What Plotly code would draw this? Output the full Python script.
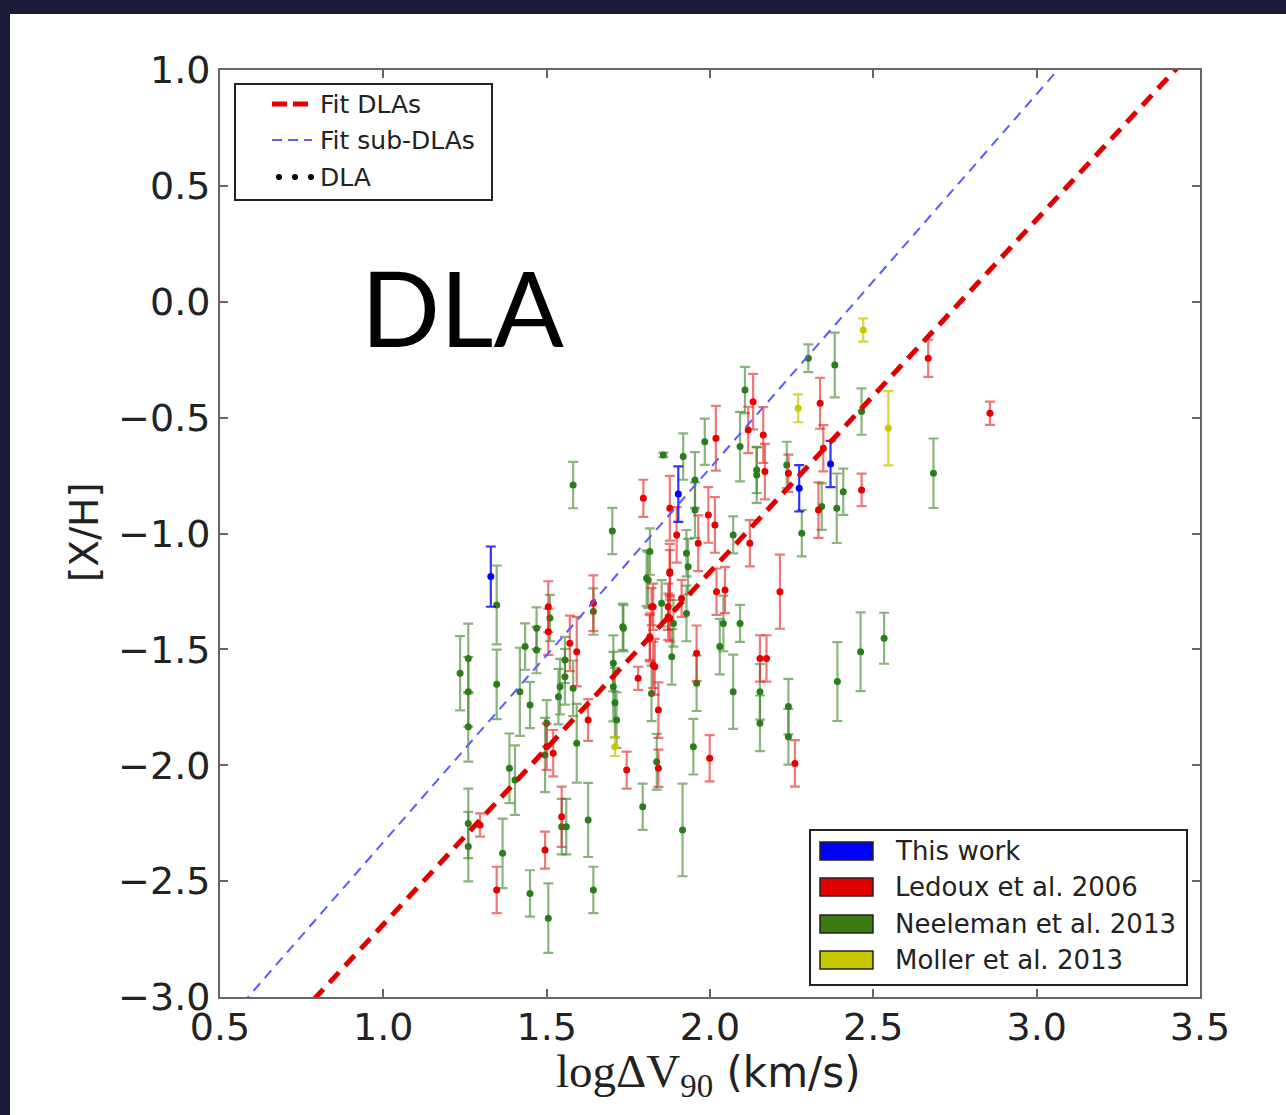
import plotly.graph_objects as go

# ---------------- data ----------------
blue_x = [1.329, 1.903, 2.273, 2.369]
blue_y = [-1.186, -0.830, -0.805, -0.700]
blue_e = [0.13, 0.12, 0.10, 0.10]

red_x = [1.296, 1.347, 1.505, 1.505, 1.643, 1.500, 1.520, 1.571, 1.592, 1.546,
         1.495, 1.627, 1.745, 1.780, 1.826, 1.816, 1.831, 1.842, 1.842, 1.877,
         1.872, 1.913, 2.132, 2.117, 2.163, 2.168, 2.337, 2.347, 2.240, 2.332,
         2.018, 1.796, 1.877, 1.898, 1.995, 2.015, 2.122, 1.877, 1.964, 2.020,
         2.046, 2.214, 1.821, 1.872, 1.816, 1.877, 1.826, 1.959, 2.153, 2.173,
         2.260, 1.999, 2.668, 2.857, 2.464]
red_y = [-2.258, -2.538, -1.316, -1.424, -1.301, -1.920, -1.948, -1.474, -1.510, -2.222,
         -2.366, -1.805, -2.021, -1.625, -1.316, -1.452, -1.575, -1.762, -2.013, -1.172,
         -1.359, -1.280, -0.431, -0.553, -0.575, -0.733, -0.438, -0.632, -0.740, -0.899,
         -0.589, -0.848, -0.891, -1.006, -0.920, -0.963, -1.042, -1.165, -1.042, -1.251,
         -1.244, -1.251, -1.316, -1.316, -1.445, -1.366, -1.567, -1.517, -1.539, -1.539,
         -1.992, -1.970, -0.244, -0.481, -0.812]
red_e = [0.05, 0.10, 0.11, 0.10, 0.12, 0.10, 0.10, 0.12, 0.15, 0.13,
         0.08, 0.09, 0.08, 0.05, 0.10, 0.10, 0.12, 0.12, 0.08, 0.10,
         0.10, 0.08, 0.12, 0.10, 0.12, 0.12, 0.11, 0.10, 0.08, 0.12,
         0.14, 0.08, 0.14, 0.12, 0.12, 0.12, 0.10, 0.12, 0.12, 0.10,
         0.10, 0.16, 0.08, 0.10, 0.10, 0.10, 0.10, 0.12, 0.10, 0.10,
         0.10, 0.10, 0.08, 0.05, 0.07]

green_x = [1.581, 1.701, 1.347, 1.510, 1.643, 1.733, 1.235, 1.260, 1.260, 1.260,
           1.347, 1.260, 1.260, 1.365, 1.418, 1.434, 1.449, 1.386, 1.403, 1.449,
           1.469, 1.469, 1.500, 1.495, 1.536, 1.541, 1.556, 1.556, 1.581, 1.592,
           1.546, 1.560, 1.505, 1.627, 1.643, 1.704, 1.714, 1.709, 1.794, 1.806,
           1.821, 1.837, 1.916, 1.883, 2.107, 2.092, 2.143, 2.235, 2.281, 1.918,
           1.857, 1.984, 1.954, 1.954, 2.071, 1.816, 1.811, 1.928, 1.933, 1.852,
           1.888, 1.928, 2.041, 2.092, 2.030, 1.735, 1.704, 1.959, 2.071, 2.153,
           2.153, 2.240, 2.240, 1.949, 2.301, 2.382, 2.464, 2.684, 2.342, 2.388,
           2.408, 2.390, 2.461, 2.533, 2.143]
green_y = [-0.791, -0.989, -1.308, -1.365, -1.337, -1.402, -1.603, -1.539, -1.683, -1.834,
           -1.651, -2.251, -2.351, -2.380, -1.683, -1.488, -1.740, -2.013, -2.064, -2.553,
           -1.409, -1.503, -1.819, -1.956, -1.704, -1.661, -1.618, -1.546, -1.668, -1.905,
           -2.265, -2.265, -2.660, -2.236, -2.538, -1.661, -1.805, -1.730, -2.179, -1.193,
           -1.690, -1.985, -2.279, -1.532, -0.381, -0.625, -0.726, -0.704, -0.999, -0.668,
           -0.661, -0.604, -0.769, -0.899, -1.006, -1.078, -1.201, -1.085, -1.143, -1.301,
           -1.388, -1.345, -1.388, -1.388, -1.488, -1.409, -1.560, -1.646, -1.683, -1.683,
           -1.819, -1.747, -1.877, -1.920, -0.244, -0.273, -0.474, -0.740, -0.884, -0.891,
           -0.820, -1.639, -1.510, -1.452, -0.748]
green_e = [0.10, 0.10, 0.17, 0.10, 0.10, 0.10, 0.16, 0.15, 0.15, 0.15,
           0.15, 0.15, 0.15, 0.15, 0.19, 0.10, 0.10, 0.15, 0.15, 0.10,
           0.09, 0.10, 0.10, 0.16, 0.12, 0.12, 0.12, 0.10, 0.12, 0.17,
           0.12, 0.12, 0.15, 0.16, 0.10, 0.15, 0.12, 0.15, 0.10, 0.12,
           0.12, 0.12, 0.20, 0.12, 0.10, 0.15, 0.10, 0.10, 0.10, 0.10,
           0.01, 0.10, 0.12, 0.12, 0.08, 0.10, 0.12, 0.10, 0.12, 0.10,
           0.10, 0.12, 0.12, 0.08, 0.12, 0.10, 0.12, 0.12, 0.16, 0.12,
           0.12, 0.12, 0.12, 0.12, 0.06, 0.14, 0.10, 0.15, 0.10, 0.15,
           0.10, 0.17, 0.17, 0.11, 0.12]

yellow_x = [1.709, 2.270, 2.469, 2.546]
yellow_y = [-1.920, -0.460, -0.122, -0.546]
yellow_e = [0.04, 0.06, 0.05, 0.16]

# linear fits: [X/H] = slope * logdV90 + intercept
fit_dla = (1.521, -4.208)
fit_subdla = (1.614, -3.946)
fit_x_range = [0.5, 3.5]

x_ticks = [0.5, 1.0, 1.5, 2.0, 2.5, 3.0, 3.5]
y_ticks = [-3.0, -2.5, -2.0, -1.5, -1.0, -0.5, 0.0, 0.5, 1.0]

legend_fits = ["Fit DLAs", "Fit sub-DLAs", "DLA"]
legend_samples = ["This work", "Ledoux et al. 2006", "Neeleman et al. 2013", "Moller et al. 2013"]

# ---------------- figure ----------------
W, H = 1286, 1115
L, R, T, B = 220, 1200, 70, 997


def px(p):
    return (p - L) / (R - L)


def py(p):
    return (B - p) / (B - T)


fig = go.Figure()

series = [
    (green_x, green_y, green_e, "#2a7d1a", "rgba(60,130,40,0.6)"),
    (red_x, red_y, red_e, "#e80000", "rgba(225,30,30,0.6)"),
    (blue_x, blue_y, blue_e, "#0000ff", "rgba(0,0,255,0.8)"),
    (yellow_x, yellow_y, yellow_e, "#c8c800", "rgba(200,200,0,0.75)"),
]
for xs, ys, es, mc, ec in series:
    fig.add_trace(go.Scatter(
        x=xs, y=ys, mode="markers",
        marker=dict(size=7, color=mc, line=dict(width=0)),
        error_y=dict(type="data", array=es, visible=True, color=ec, thickness=2.2, width=5),
        showlegend=False,
    ))

for (slope, icpt), col, wdt, dash in [(fit_subdla, "#5a5aff", 2, "10px,7px"),
                                      (fit_dla, "#e00000", 5, "14px,9px")]:
    fig.add_trace(go.Scatter(
        x=fit_x_range, y=[slope * v + icpt for v in fit_x_range],
        mode="lines", line=dict(color=col, width=wdt, dash=dash),
        showlegend=False, hoverinfo="skip",
    ))

shapes = []
annotations = []

# dark frame bands
BAND = "#1b1a38"
shapes.append(dict(type="rect", xref="paper", yref="paper", x0=px(0), x1=px(W), y0=py(0), y1=py(14),
                   fillcolor=BAND, line=dict(width=0), layer="above"))
shapes.append(dict(type="rect", xref="paper", yref="paper", x0=px(0), x1=px(10), y0=py(0), y1=py(H),
                   fillcolor=BAND, line=dict(width=0), layer="above"))

# legend 1 (fits)
shapes.append(dict(type="rect", xref="paper", yref="paper", x0=px(235), x1=px(492), y0=py(84), y1=py(200),
                   fillcolor="white", line=dict(color="#222", width=2), layer="above"))
rows1 = [104, 140, 177]
shapes.append(dict(type="line", xref="paper", yref="paper", x0=px(272), x1=px(314), y0=py(rows1[0]), y1=py(rows1[0]),
                   line=dict(color="#e00000", width=5, dash="15px,6px"), layer="above"))
shapes.append(dict(type="line", xref="paper", yref="paper", x0=px(272), x1=px(312), y0=py(rows1[1]), y1=py(rows1[1]),
                   line=dict(color="#5a5aff", width=2, dash="10px,6px"), layer="above"))
for cx in [279, 295, 311]:
    shapes.append(dict(type="circle", xref="paper", yref="paper", x0=px(cx - 3), x1=px(cx + 3),
                       y0=py(rows1[2] - 3), y1=py(rows1[2] + 3), fillcolor="black",
                       line=dict(width=0), layer="above"))
for lab, ry in zip(legend_fits, rows1):
    annotations.append(dict(text=lab, xref="paper", yref="paper", x=px(318), y=py(ry), xanchor="left",
                            yanchor="middle", showarrow=False,
                            font=dict(family="DejaVu Sans", size=25, color="#222")))

# legend 2 (samples)
shapes.append(dict(type="rect", xref="paper", yref="paper", x0=px(810), x1=px(1187), y0=py(830), y1=py(985),
                   fillcolor="white", line=dict(color="#222", width=2), layer="above"))
rows2 = [851, 887, 924, 960]
patch_cols = ["#0000ff", "#e00000", "#3a7a12", "#c8c800"]
for lab, ry, pc in zip(legend_samples, rows2, patch_cols):
    shapes.append(dict(type="rect", xref="paper", yref="paper", x0=px(820), x1=px(873), y0=py(ry - 9),
                       y1=py(ry + 9), fillcolor=pc, line=dict(color="#222", width=1.5), layer="above"))
    annotations.append(dict(text=lab, xref="paper", yref="paper", x=px(893), y=py(ry), xanchor="left",
                            yanchor="middle", showarrow=False,
                            font=dict(family="DejaVu Sans", size=26, color="#222")))

# big DLA label
annotations.append(dict(text="DLA", xref="paper", yref="paper", x=px(462), y=py(306), xanchor="center",
                        yanchor="middle", showarrow=False,
                        font=dict(family="Lato", size=104, color="black")))

# axis titles
annotations.append(dict(text="[X/H]", xref="paper", yref="paper", x=px(84), y=py(532), textangle=-90,
                        xanchor="center", yanchor="middle", showarrow=False,
                        font=dict(family="DejaVu Sans", size=39, color="#222")))
annotations.append(dict(
    text="<span style='font-family:Liberation Serif;font-size:47px'>logΔV<sub>90</sub></span> (km/s)",
    xref="paper", yref="paper", x=px(708), y=py(1074), xanchor="center", yanchor="middle",
    showarrow=False, font=dict(family="DejaVu Sans", size=42, color="#222")))

axis_common = dict(showgrid=False, zeroline=False, showline=True, mirror="ticks",
                   linecolor="#666", linewidth=2, ticks="inside", ticklen=8, tickwidth=1.5,
                   tickcolor="#666", tickfont=dict(family="DejaVu Sans", size=38, color="#222"))

fig.update_layout(
    width=W, height=H,
    margin=dict(l=L, r=W - R, t=T, b=H - B, pad=0),
    paper_bgcolor="white", plot_bgcolor="white",
    xaxis=dict(range=[0.5, 3.5], tickvals=x_ticks, ticktext=[f"{v:.1f}" for v in x_ticks],
               ticklabelstandoff=-5, **axis_common),
    yaxis=dict(range=[-3.0, 1.0], tickvals=y_ticks,
               ticktext=[f"{v:.1f}".replace("-", "\u2212") for v in y_ticks], **axis_common),
    shapes=shapes, annotations=annotations,
    showlegend=False,
)

fig.write_html("out.html", config={"displayModeBar": False},
               post_script="document.body.style.margin='0';document.body.style.padding='0';")
